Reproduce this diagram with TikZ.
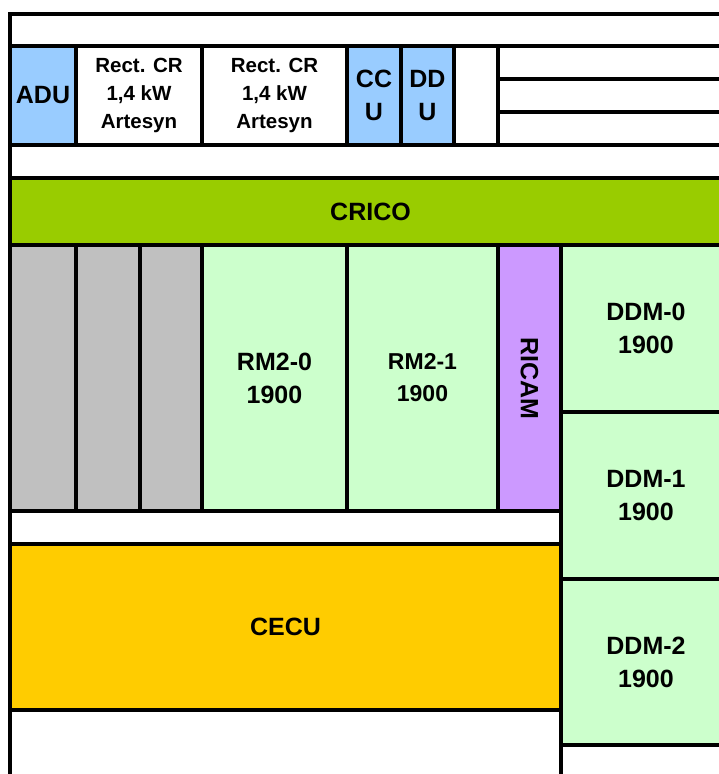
\documentclass[tikz,border=0pt]{standalone}
\usepackage{fontspec}
\setmainfont{Liberation Sans}
\definecolor{cblue}{RGB}{153,204,255}
\definecolor{cgreen}{RGB}{153,204,0}
\definecolor{clight}{RGB}{204,255,204}
\definecolor{cpurple}{RGB}{204,153,255}
\definecolor{cgold}{RGB}{255,204,0}
\definecolor{cgray}{RGB}{192,192,192}
\begin{document}
\begin{tikzpicture}[x=1pt,y=-1pt,
  cell/.style={draw=black, line width=3.3pt, inner sep=0pt, outer sep=0pt, align=center,
    fill=white, font=\bfseries\fontsize{25}{33}\selectfont},
  small/.style={font=\bfseries\fontsize{20.5}{28}\selectfont},
  mid/.style={font=\bfseries\fontsize{23}{32}\selectfont}]
\useasboundingbox (0,0) rectangle (719,774);
\clip (0,0) rectangle (719,774);
% top band
\node[cell, minimum width=721, minimum height=32] (topband) at (370.5,30) {};
% top row
\node[cell, fill=cblue, minimum width=66, minimum height=99] (adu) at (43,95.5) {ADU};
\node[cell, small, minimum width=126, minimum height=99] (rect1) at (139,95.5) {Rect. CR\\1,4 kW\\Artesyn};
\node[cell, small, minimum width=145, minimum height=99] (rect2) at (274.5,95.5) {Rect. CR\\1,4 kW\\Artesyn};
\node[cell, fill=cblue, minimum width=54, minimum height=99] (ccu) at (374,95.5) {CC\\U};
\node[cell, fill=cblue, minimum width=53, minimum height=99] (ddu) at (427.5,95.5) {DD\\U};
\node[cell, minimum width=44, minimum height=99] (blank) at (476,95.5) {};
\node[cell, minimum width=233, minimum height=33] (r1) at (614.5,62.5) {};
\node[cell, minimum width=233, minimum height=33] (r2) at (614.5,95.5) {};
\node[cell, minimum width=233, minimum height=33] (r3) at (614.5,128.5) {};
% band
\node[cell, minimum width=721, minimum height=33] (band1) at (370.5,161.5) {};
% CRICO
\node[cell, fill=cgreen, minimum width=721, minimum height=67] (crico) at (370.5,211.5) {CRICO};
% middle
\node[cell, fill=cgray, minimum width=66, minimum height=266] (g1) at (43,378) {};
\node[cell, fill=cgray, minimum width=64, minimum height=266] (g2) at (108,378) {};
\node[cell, fill=cgray, minimum width=62, minimum height=266] (g3) at (171,378) {};
\node[cell, fill=clight, minimum width=145, minimum height=266] (rm0) at (274.5,378) {RM2-0\\1900};
\node[cell, mid, fill=clight, minimum width=151, minimum height=266] (rm1) at (422.5,378) {RM2-1\\1900};
\node[cell, fill=cpurple, minimum width=63, minimum height=266] (ricam) at (529.5,378) {};
\node[font=\bfseries\fontsize{25}{33}\selectfont, rotate=-90] (ricamt) at (ricam.center) {RICAM};
% DDM
\node[cell, fill=clight, minimum width=170, minimum height=167] (ddm0) at (646,328.5) {DDM-0\\1900};
\node[cell, fill=clight, minimum width=170, minimum height=167] (ddm1) at (646,495.5) {DDM-1\\1900};
\node[cell, fill=clight, minimum width=170, minimum height=166] (ddm2) at (646,662) {DDM-2\\1900};
\node[cell, minimum width=170, minimum height=55] (ddm3) at (646,772.5) {};
% lower
\node[cell, minimum width=551, minimum height=33] (band2) at (285.5,527.5) {};
\node[cell, fill=cgold, minimum width=551, minimum height=166] (cecu) at (285.5,627) {CECU};
\node[cell, minimum width=551, minimum height=90] (bottom) at (285.5,755) {};
\end{tikzpicture}
\end{document}
